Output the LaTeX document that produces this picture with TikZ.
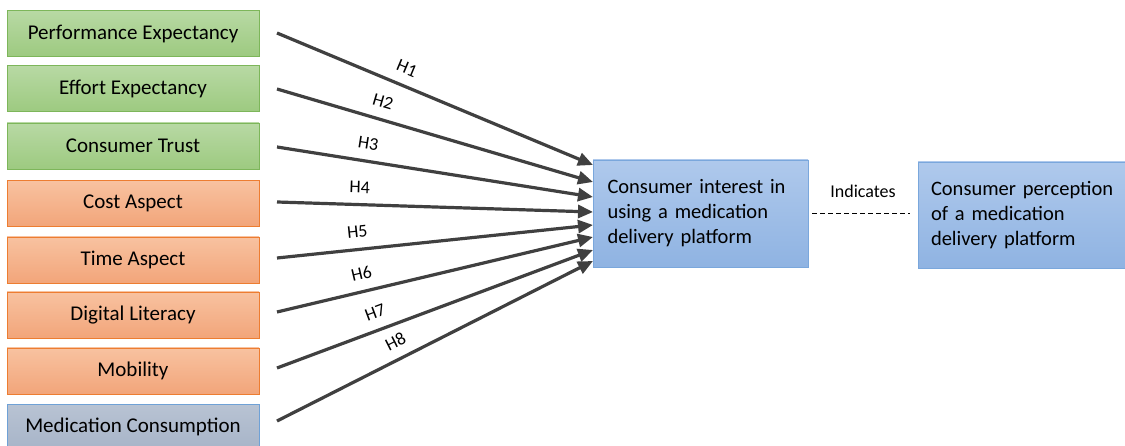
\documentclass[tikz,border=0pt]{standalone}
\usepackage{fontspec}
\setmainfont{Carlito}
\usetikzlibrary{arrows.meta}
\definecolor{gfillT}{HTML}{B8D9A4}
\definecolor{gfillB}{HTML}{9DCA80}
\definecolor{gline}{HTML}{7DB65A}
\definecolor{ofillT}{HTML}{F8C2A0}
\definecolor{ofillB}{HTML}{F2A57A}
\definecolor{oline}{HTML}{ED7D31}
\definecolor{sfillT}{HTML}{B8C3D3}
\definecolor{sfillB}{HTML}{A7B4C8}
\definecolor{sline}{HTML}{6FA1D6}
\definecolor{bfillT}{HTML}{AFC9EC}
\definecolor{bfillB}{HTML}{8FB3E2}
\definecolor{bline}{HTML}{7AA7DC}
\definecolor{arr}{HTML}{404040}
\tikzset{
  lbox/.style={draw, line width=0.8pt, minimum width=252pt, minimum height=46pt, inner sep=0pt, font=\fontsize{21}{24}\selectfont},
  gbox/.style={lbox, draw=gline, top color=gfillT, bottom color=gfillB},
  obox/.style={lbox, draw=oline, top color=ofillT, bottom color=ofillB},
  sbox/.style={lbox, draw=sline, top color=sfillT, bottom color=sfillB},
  rbox/.style={draw=bline, line width=0.8pt, top color=bfillT, bottom color=bfillB, inner sep=0pt, align=left, font=\fontsize{20.5}{25}\selectfont},
  hyp/.style={draw=arr, line width=3.2pt, -{Triangle[length=15pt,width=13pt]}},
  hlab/.style={sloped, above=9pt, inner sep=1pt, font=\fontsize{18}{20}\selectfont, text=black},
}
\begin{document}
\begin{tikzpicture}[x=1pt,y=-1pt]
\useasboundingbox (0,0) rectangle (1125,446);
\fill[white] (0,0) rectangle (1125,446);
\node[gbox] (pe) at (133,33.5) {Performance Expectancy};
\node[gbox] (ee) at (133,88.5) {Effort Expectancy};
\node[gbox] (ct) at (133,146) {Consumer Trust};
\node[obox] (ca) at (133,203.5) {Cost Aspect};
\node[obox] (ta) at (133,260) {Time Aspect};
\node[obox] (dl) at (133,315) {Digital Literacy};
\node[obox] (mo) at (133,371) {Mobility};
\node[sbox] (mc) at (133,427) {Medication Consumption};
\node[rbox, minimum width=215pt, minimum height=107pt, text width=186pt] (ci) at (700.5,213.5) {Consumer interest in\\using a medication\\delivery platform};
\node[rbox, minimum width=212pt, minimum height=106pt, text width=186pt] (cp) at (1024,215) {Consumer perception\\of a medication\\delivery platform};
\foreach \i/\ys/\ye in {1/33/165, 2/89/182, 3/147/197, 4/202/212, 5/258/225, 6/312/237, 7/368/250, 8/421/261}{
  \coordinate (s\i) at (277,\ys);
  \coordinate (e\i) at (593,\ye);
}
\draw[hyp] (s1) -- node[hlab, pos=0.39] {H1} (e1);
\draw[hyp] (s2) -- node[hlab, pos=0.32] {H2} (e2);
\draw[hyp] (s3) -- node[hlab, pos=0.28] {H3} (e3);
\draw[hyp] (s4) -- node[hlab, pos=0.26] {H4} (e4);
\draw[hyp] (s5) -- node[hlab, pos=0.26] {H5} (e5);
\draw[hyp] (s6) -- node[hlab, pos=0.28] {H6} (e6);
\draw[hyp] (s7) -- node[hlab, pos=0.33] {H7} (e7);
\draw[hyp] (s8) -- node[hlab, pos=0.40] {H8} (e8);
\draw[dash pattern=on 5pt off 3pt, line width=0.9pt, shorten <=4pt, shorten >=8pt] (ci.east) -- node[above=12pt, font=\fontsize{18}{20}\selectfont] {Indicates} (ci.east -| cp.west);
\end{tikzpicture}
\end{document}
